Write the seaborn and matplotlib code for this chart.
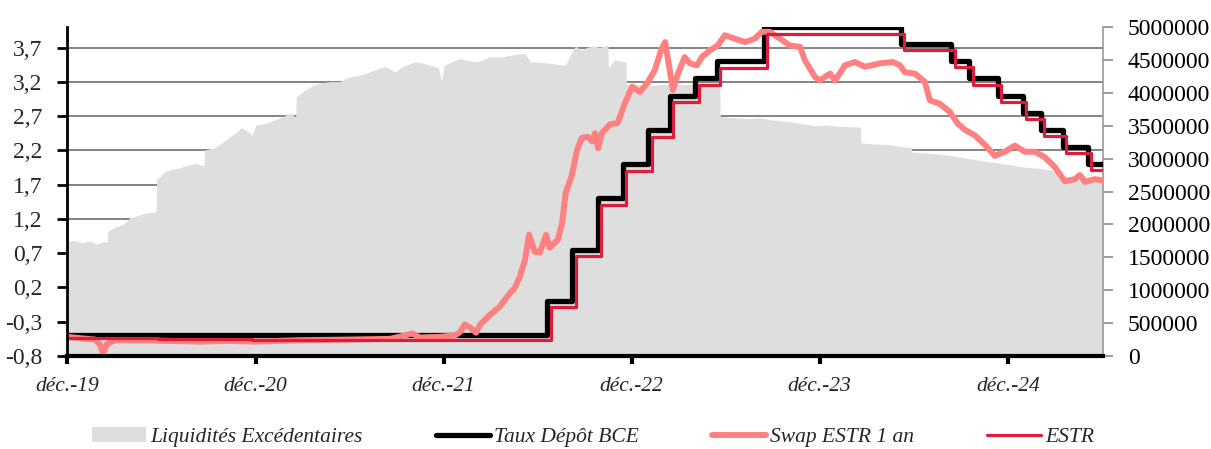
import pandas as pd
import seaborn as sns
import matplotlib.pyplot as plt
from matplotlib.patches import Patch
from matplotlib.lines import Line2D

# Liquidités excédentaires (millions EUR), right axis
liq_dates = [
    '2020-01-07', '2020-01-20', '2020-02-05', '2020-02-20', '2020-03-05',
    '2020-03-18', '2020-03-25', '2020-03-26', '2020-04-10', '2020-04-25',
    '2020-05-08', '2020-05-22', '2020-06-06', '2020-06-28', '2020-06-29',
    '2020-07-15', '2020-07-30', '2020-08-13', '2020-08-28', '2020-09-11',
    '2020-09-29', '2020-09-30', '2020-10-20', '2020-11-05', '2020-11-18',
    '2020-12-01', '2020-12-10', '2020-12-22', '2020-12-31', '2021-01-08',
    '2021-01-28', '2021-02-14', '2021-03-01', '2021-03-15', '2021-03-26',
    '2021-03-27', '2021-04-13', '2021-04-28', '2021-05-12', '2021-06-01',
    '2021-06-20', '2021-07-03', '2021-07-15', '2021-07-29', '2021-08-17',
    '2021-09-01', '2021-09-15', '2021-10-05', '2021-10-20', '2021-11-12',
    '2021-11-28', '2021-12-12', '2021-12-28', '2022-01-03', '2022-01-08',
    '2022-01-25', '2022-02-08', '2022-02-22', '2022-03-09', '2022-03-24',
    '2022-04-07', '2022-04-25', '2022-05-16', '2022-06-01', '2022-06-14',
    '2022-06-24', '2022-07-03', '2022-07-18', '2022-08-01', '2022-08-15',
    '2022-08-31', '2022-09-10', '2022-09-20', '2022-10-01', '2022-10-12',
    '2022-10-25', '2022-11-06', '2022-11-22', '2022-11-23', '2022-12-05',
    '2022-12-27', '2022-12-28', '2023-01-20', '2023-02-11', '2023-03-15',
    '2023-04-15', '2023-05-20', '2023-06-27', '2023-06-28', '2023-07-25',
    '2023-08-25', '2023-09-15', '2023-10-06', '2023-11-10', '2023-12-05',
    '2023-12-29', '2024-01-20', '2024-02-15', '2024-03-26', '2024-03-27',
    '2024-04-25', '2024-05-22', '2024-06-15', '2024-07-03', '2024-07-04',
    '2024-08-10', '2024-09-16', '2024-10-15', '2024-11-13', '2024-12-22',
    '2025-01-15', '2025-02-08', '2025-03-10', '2025-03-29', '2025-04-15',
    '2025-04-27', '2025-05-26', '2025-06-15', '2025-07-10',
]
liq_values = [
    1740000, 1760000, 1720000, 1750000, 1700000,
    1740000, 1730000, 1900000, 1960000, 2000000,
    2100000, 2130000, 2170000, 2190000, 2680000,
    2800000, 2840000, 2860000, 2900000, 2930000,
    2890000, 3130000, 3170000, 3250000, 3330000,
    3400000, 3470000, 3420000, 3360000, 3510000,
    3540000, 3590000, 3640000, 3690000, 3630000,
    3940000, 4040000, 4110000, 4150000, 4170000,
    4170000, 4230000, 4250000, 4270000, 4320000,
    4360000, 4400000, 4320000, 4400000, 4470000,
    4450000, 4420000, 4380000, 4170000, 4420000,
    4480000, 4520000, 4490000, 4470000, 4500000,
    4550000, 4540000, 4570000, 4590000, 4600000,
    4470000, 4470000, 4460000, 4450000, 4430000,
    4420000, 4570000, 4710000, 4650000, 4690000,
    4710000, 4690000, 4730000, 4380000, 4500000,
    4470000, 4130000, 4120000, 4110000, 4130000,
    4120000, 4150000, 4160000, 3640000, 3620000,
    3610000, 3620000, 3590000, 3560000, 3530000,
    3500000, 3510000, 3490000, 3480000, 3240000,
    3220000, 3210000, 3180000, 3170000, 3100000,
    3080000, 3050000, 3010000, 2970000, 2930000,
    2900000, 2870000, 2850000, 2830000, 2780000,
    2730000, 2670000, 2650000, 2640000,
]

# Taux de dépôt BCE (%)
dfr_dates = [
    '2020-01-07', '2022-07-27', '2022-09-14', '2022-11-02', '2022-12-21',
    '2023-02-08', '2023-03-22', '2023-05-10', '2023-06-21', '2023-09-20',
    '2024-06-12', '2024-09-18', '2024-10-23', '2024-12-18', '2025-02-05',
    '2025-03-12', '2025-04-23', '2025-06-11', '2025-07-10',
]
dfr_values = [
    -0.5, 0.0, 0.75, 1.5, 2.0,
    2.5, 3.0, 3.25, 3.5, 4.0,
    3.75, 3.5, 3.25, 3.0, 2.75,
    2.5, 2.25, 2.0, 2.0,
]

# ESTR (%)
estr_dates = [
    '2020-01-07', '2020-07-01', '2021-01-01', '2022-08-03', '2022-09-21',
    '2022-11-09', '2022-12-28', '2023-02-15', '2023-03-29', '2023-05-17',
    '2023-06-28', '2023-09-27', '2024-06-19', '2024-09-25', '2024-10-30',
    '2024-12-24', '2025-02-11', '2025-03-18', '2025-04-29', '2025-06-17',
    '2025-07-10',
]
estr_values = [
    -0.54, -0.55, -0.56, -0.09, 0.66,
    1.40, 1.90, 2.40, 2.90, 3.15,
    3.40, 3.90, 3.66, 3.41, 3.16,
    2.91, 2.66, 2.41, 2.16, 1.92,
    1.92,
]

# Swap ESTR 1 an (%)
swap_dates = [
    '2020-01-07', '2020-02-01', '2020-03-01', '2020-03-11', '2020-03-17',
    '2020-03-25', '2020-04-09', '2020-05-28', '2020-07-25', '2020-09-21',
    '2020-11-18', '2021-01-06', '2021-04-03', '2021-07-09', '2021-09-25',
    '2021-10-24', '2021-11-07', '2021-11-22', '2021-12-31', '2022-01-29',
    '2022-02-08', '2022-02-17', '2022-02-27', '2022-03-11', '2022-03-19',
    '2022-04-07', '2022-04-26', '2022-05-16', '2022-05-25', '2022-06-04',
    '2022-06-14', '2022-06-22', '2022-07-03', '2022-07-13', '2022-07-25',
    '2022-08-01', '2022-08-17', '2022-08-25', '2022-09-01', '2022-09-13',
    '2022-09-23', '2022-10-02', '2022-10-14', '2022-10-22', '2022-10-28',
    '2022-11-03', '2022-11-10', '2022-11-26', '2022-12-11', '2022-12-25',
    '2023-01-08', '2023-01-23', '2023-02-06', '2023-02-21', '2023-03-05',
    '2023-03-13', '2023-03-22', '2023-03-28', '2023-04-07', '2023-04-20',
    '2023-04-30', '2023-05-14', '2023-05-23', '2023-06-08', '2023-06-23',
    '2023-07-07', '2023-07-26', '2023-08-15', '2023-09-03', '2023-09-17',
    '2023-10-02', '2023-10-22', '2023-11-10', '2023-11-30', '2023-12-09',
    '2023-12-29', '2024-01-07', '2024-01-27', '2024-02-06', '2024-02-25',
    '2024-03-15', '2024-04-04', '2024-05-03', '2024-05-28', '2024-06-11',
    '2024-06-20', '2024-07-10', '2024-07-29', '2024-08-08', '2024-08-27',
    '2024-09-16', '2024-10-01', '2024-10-15', '2024-11-03', '2024-11-23',
    '2024-12-12', '2024-12-31', '2025-01-20', '2025-02-08', '2025-02-28',
    '2025-03-19', '2025-04-07', '2025-04-27', '2025-05-16', '2025-05-26',
    '2025-06-05', '2025-06-24', '2025-07-10',
]
swap_values = [
    -0.52, -0.54, -0.56, -0.63, -0.77,
    -0.62, -0.57, -0.57, -0.58, -0.59,
    -0.58, -0.59, -0.57, -0.56, -0.55,
    -0.50, -0.47, -0.53, -0.52, -0.50,
    -0.45, -0.34, -0.38, -0.46, -0.34,
    -0.20, -0.08, 0.12, 0.19, 0.36,
    0.60, 0.97, 0.72, 0.71, 0.97,
    0.78, 0.90, 1.14, 1.58, 1.84,
    2.20, 2.38, 2.40, 2.33, 2.45,
    2.23, 2.45, 2.58, 2.60, 2.89,
    3.13, 3.05, 3.18, 3.37, 3.66,
    3.78, 3.37, 3.08, 3.32, 3.56,
    3.47, 3.44, 3.56, 3.66, 3.73,
    3.88, 3.83, 3.78, 3.83, 3.93,
    3.93, 3.83, 3.73, 3.71, 3.52,
    3.27, 3.22, 3.32, 3.22, 3.44,
    3.49, 3.42, 3.47, 3.49, 3.44,
    3.34, 3.32, 3.20, 2.93, 2.88,
    2.76, 2.59, 2.50, 2.42, 2.28,
    2.12, 2.18, 2.27, 2.18, 2.18,
    2.10, 1.96, 1.75, 1.78, 1.84,
    1.74, 1.78, 1.76,
]

x_tick_dates = ['2020-01-07', '2021-01-07', '2022-01-07', '2023-01-07',
                '2024-01-07', '2025-01-07']
x_tick_labels = ['déc.-19', 'déc.-20', 'déc.-21', 'déc.-22', 'déc.-23',
                 'déc.-24']
left_ticks = [-0.8, -0.3, 0.2, 0.7, 1.2, 1.7, 2.2, 2.7, 3.2, 3.7]
left_labels = ['-0,8', '-0,3', '0,2', '0,7', '1,2', '1,7', '2,2', '2,7',
               '3,2', '3,7']
right_ticks = [0, 500000, 1000000, 1500000, 2000000, 2500000, 3000000,
               3500000, 4000000, 4500000, 5000000]

GREY = '#DEDEDE'
PINK = '#FF8080'
RED = '#DC1E3C'


def main():
    sns.set_theme(style='white')
    plt.rcParams['font.family'] = ['Liberation Serif', 'DejaVu Serif']

    liq = pd.DataFrame({'date': pd.to_datetime(liq_dates), 'v': liq_values})
    dfr = pd.DataFrame({'date': pd.to_datetime(dfr_dates), 'v': dfr_values})
    estr = pd.DataFrame({'date': pd.to_datetime(estr_dates),
                         'v': estr_values})
    swap = pd.DataFrame({'date': pd.to_datetime(swap_dates),
                         'v': swap_values})

    fig = plt.figure(figsize=(12.11, 4.49), dpi=100)
    ax = fig.add_axes([67 / 1211, 93 / 449, 1036 / 1211, 329 / 449])
    ax_area = ax.twinx()
    ax_lines = ax.twinx()

    # base axes: left scale, grid and ticks (grid sits under the area)
    ax.set_ylim(-0.8, 4.0)
    ax.set_yticks(left_ticks, left_labels)
    ax.yaxis.grid(True, color='#6E6E6E', linewidth=1.2)
    ax.xaxis.grid(False)
    ax.set_xticks(pd.to_datetime(x_tick_dates), x_tick_labels,
                  fontstyle='italic', fontsize=15.5)
    ax.tick_params(axis='y', left=True, right=False, length=7, width=2,
                   color='black', pad=11, labelsize=17)
    ax.tick_params(axis='x', bottom=True, length=6, width=3, color='black',
                   pad=9)
    for s in ax.spines.values():
        s.set_visible(False)

    # liquidity area on the right scale
    ax_area.fill_between(liq['date'], liq['v'], color=GREY, linewidth=0)
    ax_area.set_ylim(0, 5000000)
    ax_area.set_yticks(right_ticks, [str(t) for t in right_ticks])
    ax_area.tick_params(axis='y', right=True, left=False, length=7,
                        width=1.2, color='#8C8C8C', pad=11, labelsize=17,
                        labelcolor='black')
    for name, s in ax_area.spines.items():
        s.set_visible(name == 'right')
    ax_area.spines['right'].set_color('#999999')
    ax_area.spines['right'].set_linewidth(1.2)

    # rate lines on the left scale
    sns.lineplot(data=dfr, x='date', y='v', ax=ax_lines, color='black',
                 linewidth=3.8, drawstyle='steps-post', estimator=None,
                 sort=False)
    sns.lineplot(data=swap, x='date', y='v', ax=ax_lines, color=PINK,
                 linewidth=4.3, estimator=None, sort=False,
                 solid_joinstyle='round', solid_capstyle='round')
    sns.lineplot(data=estr, x='date', y='v', ax=ax_lines, color=RED,
                 linewidth=2.3, drawstyle='steps-post', estimator=None,
                 sort=False)
    ax_lines.set_ylim(-0.8, 4.0)
    ax_lines.set_yticks([])
    ax_lines.set_xlabel('')
    ax_lines.set_ylabel('')
    for name, s in ax_lines.spines.items():
        s.set_visible(name in ('left', 'bottom'))
        s.set_color('black')
    ax_lines.spines['left'].set_linewidth(2.0)
    ax_lines.spines['bottom'].set_linewidth(3.0)

    ax.set_xlim(pd.Timestamp('2020-01-07'), pd.Timestamp('2025-07-10'))
    ax.set_xlabel('')
    ax.set_ylabel('')
    ax_area.set_ylabel('')

    handles = [
        Patch(facecolor=GREY, edgecolor='none'),
        Line2D([], [], color='black', linewidth=3.8),
        Line2D([], [], color=PINK, linewidth=4.3),
        Line2D([], [], color=RED, linewidth=2.3),
    ]
    labels = ['Liquidités Excédentaires', 'Taux Dépôt BCE', 'Swap ESTR 1 an',
              'ESTR']
    fig.legend(handles, labels, loc='center', ncol=4, frameon=False,
               bbox_to_anchor=(0.49, 12 / 449),
               prop={'style': 'italic', 'size': 15.5},
               handlelength=2.5, handletextpad=0.2, columnspacing=3.4)

    fig.savefig('out.png', dpi=100)


if __name__ == '__main__':
    main()
